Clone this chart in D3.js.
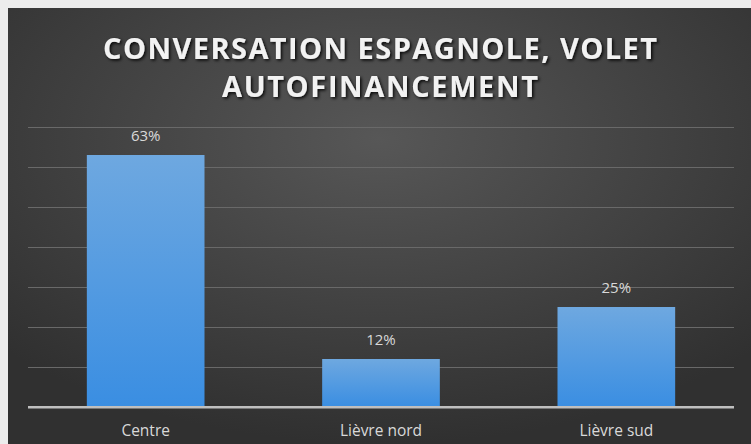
<!DOCTYPE html>
<html>
<head>
<meta charset="utf-8">
<script src="https://cdn.jsdelivr.net/npm/d3@7"></script>
<style>
  body { margin: 0; background: #ececec; }
  svg { display: block; }
</style>
</head>
<body>
<svg></svg>
<script>
var width = 751;
var height = 444;

// data
var categories = ['Centre', 'Lièvre nord', 'Lièvre sud'];
var values = [63, 12, 25];
var ticks = [0, 10, 20, 30, 40, 50, 60, 70];
var titleLines = ['CONVERSATION ESPAGNOLE, VOLET', 'AUTOFINANCEMENT'];
var titleWidths = [554, 316];

var svg = d3.select('svg')
    .attr('width', width)
    .attr('height', height);

var defs = svg.append('defs');

var bg = defs.append('radialGradient')
    .attr('id', 'bg')
    .attr('cx', '50%').attr('cy', '30%').attr('r', '70%');
bg.append('stop').attr('offset', '0%').attr('stop-color', '#575757');
bg.append('stop').attr('offset', '100%').attr('stop-color', '#303030');

var barGrad = defs.append('linearGradient')
    .attr('id', 'bar')
    .attr('x1', 0).attr('y1', 0).attr('x2', 0).attr('y2', 1);
barGrad.append('stop').attr('offset', '0%').attr('stop-color', '#6ea8e0');
barGrad.append('stop').attr('offset', '100%').attr('stop-color', '#3a8ee2');

var shadow = defs.append('filter').attr('id', 'shadow')
    .attr('x', '-10%').attr('y', '-30%').attr('width', '120%').attr('height', '160%');
shadow.append('feDropShadow')
    .attr('dx', 1.5).attr('dy', 1.5).attr('stdDeviation', 1.5)
    .attr('flood-color', '#000').attr('flood-opacity', 0.9);

// chart panel
svg.append('rect')
    .attr('x', 8).attr('y', 8)
    .attr('width', width - 8).attr('height', height - 8)
    .attr('fill', 'url(#bg)');

// title
svg.append('g').selectAll('text')
    .data(titleLines)
    .enter().append('text')
    .attr('x', 380)
    .attr('y', function (d, i) { return 59 + i * 38; })
    .attr('text-anchor', 'middle')
    .attr('font-family', 'Open Sans, sans-serif')
    .attr('font-weight', 'bold')
    .attr('font-size', 29)
    .attr('textLength', function (d, i) { return titleWidths[i]; })
    .attr('lengthAdjust', 'spacing')
    .attr('fill', '#f2f2f2')
    .attr('filter', 'url(#shadow)')
    .text(function (d) { return d; });

var x = d3.scaleBand()
    .domain(categories)
    .range([28, 734])
    .paddingInner(0.5)
    .paddingOuter(0.25);

var y = d3.scaleLinear()
    .domain([0, 70])
    .range([407, 127]);

// gridlines
svg.append('g')
    .attr('transform', 'translate(28,0)')
    .call(d3.axisLeft(y).tickValues(ticks).tickSize(-(734 - 28)).tickFormat(''))
    .call(function (g) { g.select('.domain').remove(); })
    .selectAll('line')
    .attr('stroke', function (d) { return d === 0 ? '#bfbfbf' : '#696969'; })
    .attr('stroke-width', function (d) { return d === 0 ? 2 : 1; });

// bars
svg.append('g').selectAll('rect')
    .data(values)
    .enter().append('rect')
    .attr('x', function (d, i) { return x(categories[i]); })
    .attr('y', function (d) { return y(d); })
    .attr('width', x.bandwidth())
    .attr('height', function (d) { return y(0) - y(d); })
    .attr('fill', 'url(#bar)');

// redraw baseline on top of bars
svg.append('line')
    .attr('x1', 28).attr('x2', 734)
    .attr('y1', y(0)).attr('y2', y(0))
    .attr('stroke', '#bfbfbf').attr('stroke-width', 2);

// value labels
svg.append('g').selectAll('text')
    .data(values)
    .enter().append('text')
    .attr('x', function (d, i) { return x(categories[i]) + x.bandwidth() / 2; })
    .attr('y', function (d) { return y(d) - 14; })
    .attr('text-anchor', 'middle')
    .attr('font-family', 'Open Sans, sans-serif')
    .attr('font-size', 15)
    .attr('fill', '#d9d9d9')
    .text(function (d) { return d + '%'; });

// category axis
var xAxis = svg.append('g')
    .attr('transform', 'translate(0,' + y(0) + ')')
    .call(d3.axisBottom(x).tickSize(0).tickPadding(18));
xAxis.select('.domain').remove();
xAxis.selectAll('text')
    .attr('font-family', 'Open Sans, sans-serif')
    .attr('font-size', 15.5)
    .attr('fill', '#d9d9d9');
</script>
</body>
</html>
